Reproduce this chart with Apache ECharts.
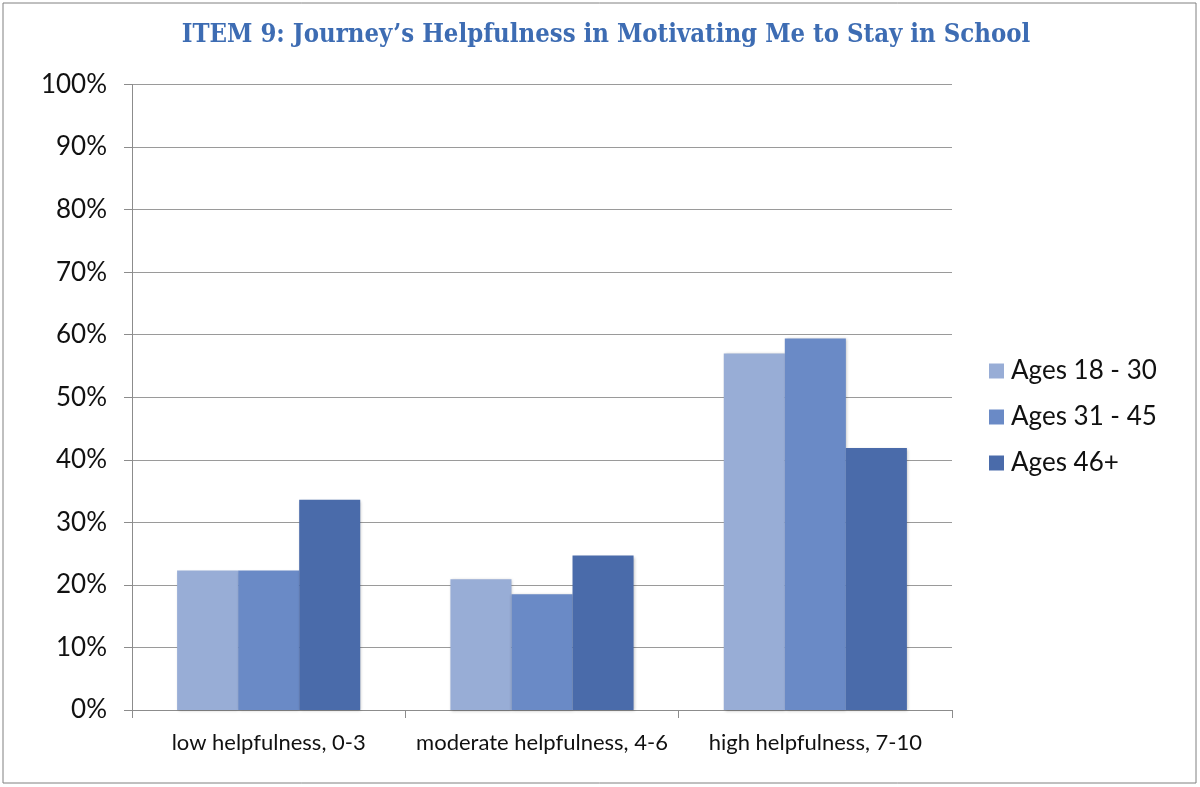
<!DOCTYPE html>
<html>
<head>
<meta charset="utf-8">
<script src="https://cdn.jsdelivr.net/npm/echarts@6/dist/echarts.min.js"></script>
<style>
  html, body { margin: 0; padding: 0; background: #ffffff; }
  #chart { width: 1200px; height: 787px; }
</style>
</head>
<body>
<div id="chart"></div>
<script>
// Helpfulness ratings by age group (percent of respondents)
const categories = ['low helpfulness, 0-3', 'moderate helpfulness, 4-6', 'high helpfulness, 7-10'];
const seriesNames = ['Ages 18 - 30', 'Ages 31 - 45', 'Ages 46+'];
const ages18to30 = [22.3, 20.9, 57.0];
const ages31to45 = [22.3, 18.5, 59.4];
const ages46plus = [33.6, 24.7, 41.9];
const yTicks = { min: 0, max: 100, interval: 10 };

const colors = ['#98ADD6', '#6A8AC6', '#4A6BAA'];
const values = [ages18to30, ages31to45, ages46plus];

const chart = echarts.init(document.getElementById('chart'), null, { renderer: 'canvas' });

const series = seriesNames.map((name, i) => ({
  name: name,
  type: 'bar',
  data: values[i],
  barGap: '0%',
  barCategoryGap: '33%',
  itemStyle: {
    color: colors[i],
    shadowColor: 'rgba(0,0,0,0.25)',
    shadowBlur: 3,
    shadowOffsetX: 1,
    shadowOffsetY: 1
  },
  emphasis: { disabled: true }
}));

chart.setOption({
  animation: false,
  backgroundColor: '#ffffff',
  title: {
    text: 'ITEM 9: Journey\u2019s Helpfulness in Motivating Me to Stay in School',
    left: 601,
    textAlign: 'center',
    top: 17,
    textStyle: {
      fontFamily: '"DejaVu Serif Condensed", "DejaVu Serif", serif',
      fontWeight: 'bold',
      fontSize: 25.5,
      color: '#3D6CB3'
    }
  },
  graphic: [{
    type: 'rect',
    shape: { x: 3, y: 3, width: 1193, height: 780 },
    style: { fill: 'none', stroke: '#808080', lineWidth: 1 },
    silent: true,
    z: -1
  }],
  legend: {
    orient: 'vertical',
    left: 984,
    top: 353,
    itemWidth: 15,
    itemHeight: 15,
    itemGap: 20,
    icon: 'rect',
    textStyle: {
      fontFamily: 'Lato, "Open Sans", sans-serif',
      fontSize: 26,
      color: '#111111',
      padding: [0, 0, 0, 2]
    },
    data: seriesNames
  },
  grid: {
    left: 132,
    right: 248,
    top: 84.5,
    bottom: 77,
    containLabel: false
  },
  xAxis: {
    type: 'category',
    data: categories,
    axisLine: { lineStyle: { color: '#8C8C8C', width: 1 } },
    axisTick: { show: true, length: 8, lineStyle: { color: '#8C8C8C' } },
    axisLabel: {
      interval: 0,
      hideOverlap: false,
      fontFamily: 'Lato, "Open Sans", sans-serif',
      fontSize: 22,
      color: '#111111',
      margin: 22
    }
  },
  yAxis: {
    type: 'value',
    min: yTicks.min,
    max: yTicks.max,
    interval: yTicks.interval,
    axisLine: { show: true, lineStyle: { color: '#8C8C8C', width: 1 } },
    axisTick: { show: true, length: 8, lineStyle: { color: '#8C8C8C' } },
    splitLine: { show: true, lineStyle: { color: '#9A9A9A', width: 1 } },
    axisLabel: {
      formatter: '{value}%',
      fontFamily: 'Lato, "Open Sans", sans-serif',
      fontSize: 26,
      color: '#111111',
      margin: 25
    }
  },
  series: series
});
</script>
</body>
</html>
